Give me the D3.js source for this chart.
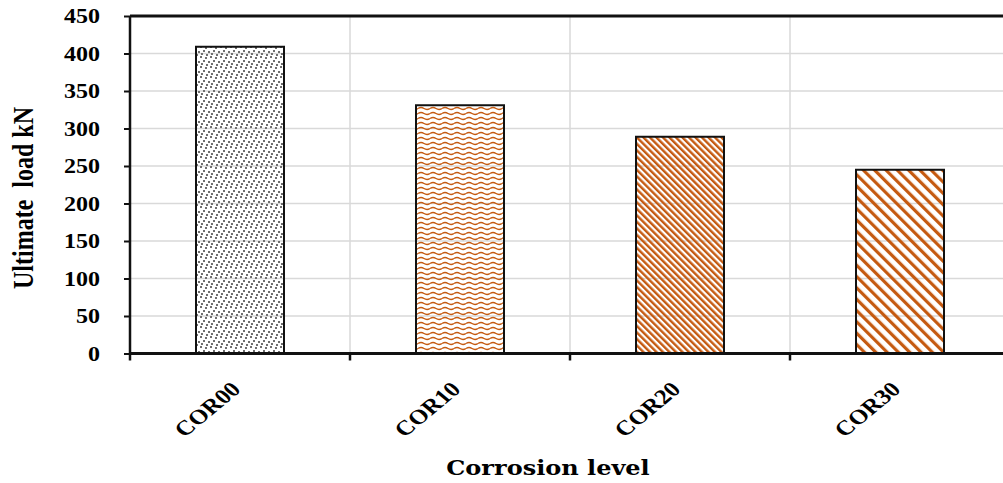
<!DOCTYPE html>
<html>
<head>
<meta charset="utf-8">
<script src="https://cdn.jsdelivr.net/npm/d3@7"></script>
<style>
body{margin:0;background:#fff}
.tick text{font-family:"Liberation Serif","Times New Roman",serif;font-weight:bold;fill:#000}
</style>
</head>
<body>
<div class="chart"></div>
<script>
const categories=['COR00','COR10','COR20','COR30']
const loads=[409,331,289,245]
const yTicks=[0,50,100,150,200,250,300,350,400,450]
const patterns=['dots','waves','stripes','wide']

const margin=({top:16,right:-7,bottom:129.5,left:130})
const width=1003-margin.left-margin.right,
	  height=483-margin.top-margin.bottom
const orange='#c55a11'
const stretch=1.2 // the reference text is a bit wider than it is tall

const root=d3.select('.chart').append('svg')
		.attr('width',1003)
		.attr('height',483)

const defs=root.append('defs')

// gray confetti dots
let p=defs.append('pattern').attr('id','dots')
		.attr('patternUnits','userSpaceOnUse').attr('width',10).attr('height',10)
;[[0,0],[5,1],[3,4],[8,5],[1,7],[6,8]].forEach(d=>{
	p.append('rect').attr('x',d[0]).attr('y',d[1]).attr('width',2).attr('height',2)
		.attr('fill','#6f6f6f')
})

// waves
p=defs.append('pattern').attr('id','waves')
		.attr('patternUnits','userSpaceOnUse').attr('width',12).attr('height',5)
p.append('path').attr('d','M0,2.5 Q3,0.6 6,2.5 T12,2.5')
		.attr('fill','none').attr('stroke',orange).attr('stroke-width',1.4)

// narrow diagonal stripes
p=defs.append('pattern').attr('id','stripes')
		.attr('patternUnits','userSpaceOnUse').attr('width',4.6).attr('height',4.6)
		.attr('patternTransform','rotate(-45)')
p.append('rect').attr('x',0).attr('y',0).attr('width',2.4).attr('height',4.6).attr('fill',orange)

// wide diagonal stripes
p=defs.append('pattern').attr('id','wide')
		.attr('patternUnits','userSpaceOnUse').attr('width',8).attr('height',8)
		.attr('patternTransform','rotate(-45)')
p.append('rect').attr('x',0).attr('y',0).attr('width',3.2).attr('height',8).attr('fill',orange)

const svg=root.append('g')
		.attr('transform','translate('+margin.left+','+margin.top+')')

const xBand=d3.scaleBand()
		.domain(categories)
		.range([0,width])

const yScale=d3.scaleLinear()
		.domain([0,450])
		.range([height,0])

// grid
svg.append('g').selectAll('line')
		.data(yTicks.slice(1))
		.enter().append('line')
		.attr('x1',0).attr('x2',width)
		.attr('y1',d=>yScale(d)).attr('y2',d=>yScale(d))
		.attr('stroke','#d9d9d9').attr('stroke-width',1.5)

svg.append('g').selectAll('line')
		.data(categories.slice(1))
		.enter().append('line')
		.attr('x1',d=>xBand(d)).attr('x2',d=>xBand(d))
		.attr('y1',0).attr('y2',height)
		.attr('stroke','#d9d9d9').attr('stroke-width',1.5)

// top border
svg.append('line')
		.attr('x1',0).attr('x2',width).attr('y1',0).attr('y2',0)
		.attr('stroke','#111').attr('stroke-width',3)

// bars
const bw=xBand.bandwidth()*0.4
svg.selectAll('.bar')
		.data(categories)
		.enter().append('rect')
		.attr('class','bar')
		.attr('x',d=>xBand(d)+xBand.bandwidth()/2-bw/2)
		.attr('y',(d,i)=>yScale(loads[i]))
		.attr('width',bw)
		.attr('height',(d,i)=>height-yScale(loads[i]))
		.attr('fill',(d,i)=>'url(#'+patterns[i]+')')
		.attr('stroke','#111')
		.attr('stroke-width',2)

// y axis
const yAxis=d3.axisLeft(yScale)
		.tickValues(yTicks)
		.tickSize(6)
svg.append('g')
		.attr('class','y-axis')
		.call(yAxis)
		.call(g=>g.select('.domain').attr('stroke','#111').attr('stroke-width',2.5).attr('d','M0,0V'+height))
		.call(g=>g.selectAll('.tick line').attr('stroke','#111').attr('stroke-width',2))
		.call(g=>g.selectAll('.tick text')
			.style('font-size','20px')
			.attr('x',null)
			.attr('dy','0.34em')
			.attr('transform',`translate(-30,0) scale(${stretch},1)`))

// x axis
const xAxis=d3.axisBottom(xBand).tickSize(0)
const xg=svg.append('g')
		.attr('class','x-axis')
		.attr('transform',`translate(0,${height})`)
		.call(xAxis)
xg.select('.domain').attr('stroke','#111').attr('stroke-width',3).attr('d','M0,0H'+width)
xg.selectAll('.tick text')
		.style('font-size','21px')
		.attr('text-anchor','end')
		.attr('y',null)
		.attr('dy',null)
		.attr('transform',`translate(2,37) scale(${stretch},1) rotate(-45)`)
xg.selectAll('.bound')
		.data(d3.range(categories.length+1))
		.enter().append('line')
		.attr('x1',i=>i*xBand.step()).attr('x2',i=>i*xBand.step())
		.attr('y1',0).attr('y2',7)
		.attr('stroke','#111').attr('stroke-width',2.5)

// titles
root.append('text')
		.attr('transform',`translate(33,198) rotate(-90) scale(1,${stretch})`)
		.attr('text-anchor','middle')
		.style('font-family','"Liberation Serif","Times New Roman",serif')
		.style('font-weight','bold')
		.style('font-size','24px')
		.style('white-space','pre')
		.text('Ultimate  load kN')

root.append('text')
		.attr('transform',`translate(548,475) scale(${stretch},1)`)
		.attr('text-anchor','middle')
		.style('font-family','"DejaVu Serif",serif')
		.style('font-weight','bold')
		.style('font-size','20px')
		.text('Corrosion level')
</script>
</body>
</html>
